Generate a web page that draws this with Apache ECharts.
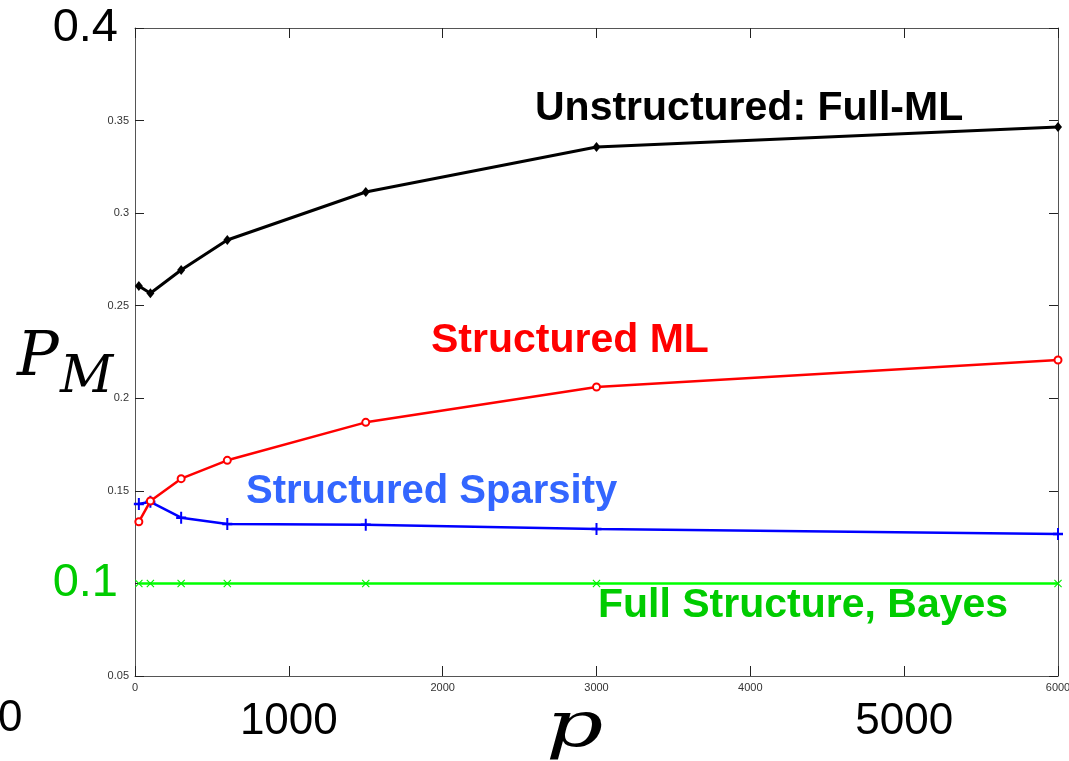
<!DOCTYPE html>
<html>
<head>
<meta charset="utf-8">
<script src="https://cdn.jsdelivr.net/npm/echarts@6/dist/echarts.min.js"></script>
<style>
html,body{margin:0;padding:0;background:#fff;overflow:hidden;}
#chart{width:1069px;height:761px;}
</style>
</head>
<body>
<div id="chart"></div>
<script>
const pValues = [25, 100, 300, 600, 1500, 3000, 6000];
const fullML = [0.2606, 0.2567, 0.2693, 0.2855, 0.3114, 0.3357, 0.3465];
const structuredML = [0.1333, 0.1445, 0.1566, 0.1665, 0.1870, 0.2061, 0.2207];
const structuredSparsity = [0.1429, 0.1441, 0.1355, 0.1321, 0.1317, 0.1294, 0.1267];
const fullStructureBayes = [0.1, 0.1, 0.1, 0.1, 0.1, 0.1, 0.1];
const xBigTicks = [1000, 5000];
const yBigTicks = [0.1, 0.4];

const pairs = arr => pValues.map((x, i) => [x, arr[i]]);

const chart = echarts.init(document.getElementById('chart'));
const font = 'Liberation Sans, Arial, sans-serif';
const serif = 'DejaVu Serif, Liberation Serif, serif';
const axisColor = '#555';

const plusPath = 'path://M4,0h2v4h4v2h-4v4h-2v-4h-4v-2h4z';
const xPath = 'path://M0,1L1,0L5,4L9,0L10,1L6,5L10,9L9,10L5,6L1,10L0,9L4,5Z';

chart.setOption({
  animation: false,
  backgroundColor: '#fff',
  grid: { left: 135, right: 11, top: 28, bottom: 85, containLabel: false, outerBoundsMode: 'none' },
  xAxis: [{
    gridIndex: 0, type: 'value', position: 'bottom', min: 0, max: 6000, interval: 1000,
    axisLine: { show: true, onZero: false, lineStyle: { color: axisColor, width: 1 } },
    axisTick: { show: true, inside: true, length: 10, lineStyle: { color: '#222' } },
    splitLine: { show: false },
    axisLabel: {
      show: true, margin: 6, color: '#333', fontFamily: font, fontSize: 11,
      showMinLabel: true, showMaxLabel: true, hideOverlap: false,
      formatter: v => xBigTicks.indexOf(v) >= 0 ? '{b|' + v + '}' : String(v),
      rich: { b: { fontSize: 44, fontFamily: font, color: '#000', padding: [18, 0, 0, 0] } }
    }
  }, {
    gridIndex: 0, type: 'value', position: 'top', min: 0, max: 6000, interval: 1000,
    axisLine: { show: true, onZero: false, lineStyle: { color: axisColor, width: 1 } },
    axisTick: { show: true, inside: true, length: 10, lineStyle: { color: '#222' } },
    axisLabel: { show: false }, splitLine: { show: false }
  }],
  yAxis: [{
    gridIndex: 0, type: 'value', position: 'left', min: 0.05, max: 0.4, interval: 0.05,
    axisLine: { show: true, onZero: false, lineStyle: { color: axisColor, width: 1 } },
    axisTick: { show: true, inside: true, length: 9, lineStyle: { color: '#222' } },
    splitLine: { show: false },
    axisLabel: {
      show: true, margin: 6, color: '#333', fontFamily: font, fontSize: 11,
      showMinLabel: true, showMaxLabel: true,
      formatter: v => {
        const r = Math.round(v * 100) / 100;
        if (Math.abs(r - yBigTicks[0]) < 1e-9) return '{g|' + r + '}';
        if (Math.abs(r - yBigTicks[1]) < 1e-9) return '{b|' + r + '}';
        return String(r);
      },
      rich: {
        b: { fontSize: 47, fontFamily: font, color: '#000', padding: [0, 11, 0, 0] },
        g: { fontSize: 47, fontFamily: font, color: '#00cc00', padding: [0, 11, 0, 0] }
      }
    }
  }, {
    gridIndex: 0, type: 'value', position: 'right', offset: 0, min: 0.05, max: 0.4, interval: 0.05,
    axisLine: { show: true, onZero: false, lineStyle: { color: axisColor, width: 1 } },
    axisTick: { show: true, inside: true, length: 9, lineStyle: { color: '#222' } },
    axisLabel: { show: false }, splitLine: { show: false }
  }],
  series: [
    {
      name: 'Full Structure, Bayes', type: 'line', data: pairs(fullStructureBayes),
      lineStyle: { color: '#00ff00', width: 2.5 }, itemStyle: { color: '#00ee00' },
      symbol: xPath, symbolSize: 8, showAllSymbol: true, clip: false
    },
    {
      name: 'Structured Sparsity', type: 'line', data: pairs(structuredSparsity),
      lineStyle: { color: '#0000ff', width: 2.5 }, itemStyle: { color: '#0000ff' },
      symbol: plusPath, symbolSize: [10, 12], showAllSymbol: true, clip: false
    },
    {
      name: 'Structured ML', type: 'line', data: pairs(structuredML),
      lineStyle: { color: '#ff0000', width: 2.5 },
      itemStyle: { color: '#fff', borderColor: '#ff0000', borderWidth: 2 },
      symbol: 'circle', symbolSize: 7, showAllSymbol: true, clip: false
    },
    {
      name: 'Unstructured: Full-ML', type: 'line', data: pairs(fullML),
      lineStyle: { color: '#000', width: 3 }, itemStyle: { color: '#000' },
      symbol: 'diamond', symbolSize: [8, 10], showAllSymbol: true, clip: false
    }
  ],
  graphic: [
    { type: 'text', x: 535, y: 109, style: { text: 'Unstructured: Full-ML', font: 'bold 41px ' + font, fill: '#000', verticalAlign: 'middle' } },
    { type: 'text', x: 431, y: 341, style: { text: 'Structured ML', font: 'bold 41px ' + font, fill: '#ff0000', verticalAlign: 'middle' } },
    { type: 'text', x: 246, y: 492, style: { text: 'Structured Sparsity', font: 'bold 40px ' + font, fill: '#3366ff', verticalAlign: 'middle' } },
    { type: 'text', x: 598, y: 606, style: { text: 'Full Structure, Bayes', font: 'bold 41px ' + font, fill: '#00cc00', verticalAlign: 'middle' } },
    { type: 'text', x: -2, y: 719, style: { text: '0', font: '44px ' + font, fill: '#000', verticalAlign: 'middle' } },
    { type: 'text', x: 546, y: 729, scaleX: 1.4, style: { text: 'p', font: 'italic 64px ' + serif, fill: '#000', verticalAlign: 'middle' } },
    { type: 'text', x: 17, y: 359, style: { text: 'P', font: 'italic 62px ' + serif, fill: '#000', verticalAlign: 'middle' } },
    { type: 'text', x: 60, y: 378, style: { text: 'M', font: 'italic 52px ' + serif, fill: '#000', verticalAlign: 'middle' } }
  ]
});
</script>
</body>
</html>
